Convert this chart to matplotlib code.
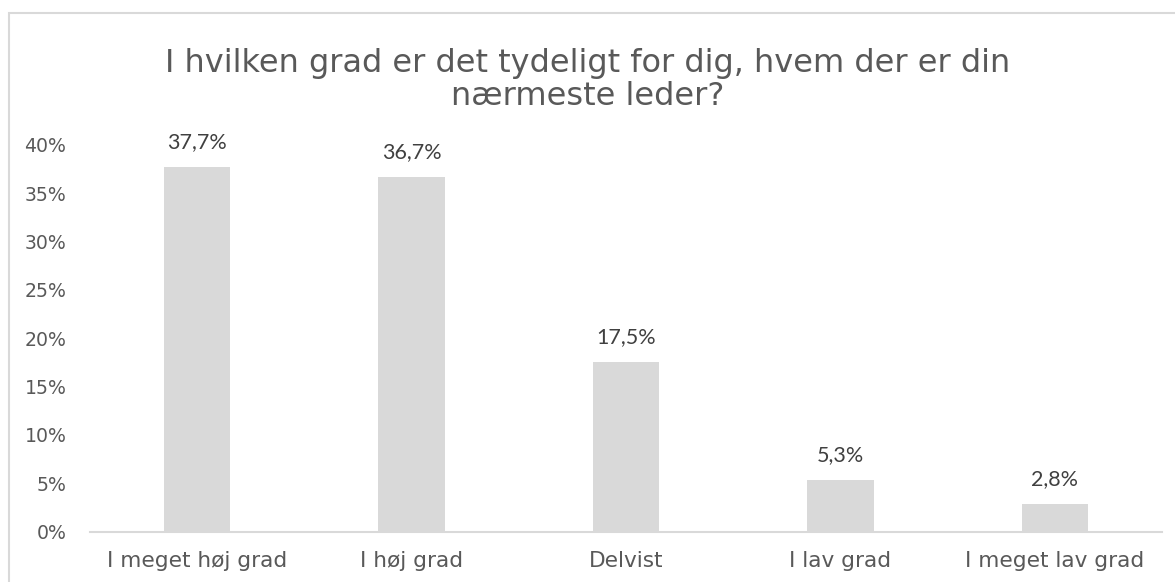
import matplotlib
matplotlib.use("Agg")
import matplotlib.pyplot as plt
from matplotlib.patches import Rectangle

categories = ["I meget høj grad", "I høj grad", "Delvist", "I lav grad", "I meget lav grad"]
values = [37.7, 36.7, 17.5, 5.3, 2.8]
value_labels = ["37,7%", "36,7%", "17,5%", "5,3%", "2,8%"]
yticks = [0, 5, 10, 15, 20, 25, 30, 35, 40]
ytick_labels = ["0%", "5%", "10%", "15%", "20%", "25%", "30%", "35%", "40%"]
title = "I hvilken grad er det tydeligt for dig, hvem der er din\nnærmeste leder?"

TEXT = "#595959"
GRID = "#d9d9d9"
BAR = "#d9d9d9"

fig = plt.figure(figsize=(11.75, 5.82), dpi=100)
ax = fig.add_axes([90 / 1175, 1 - 531.5 / 582, (1162 - 90) / 1175, (531.5 - 145) / 582])

x = list(range(len(categories)))
ax.bar(x, values, width=0.31, color=BAR, zorder=2)
ax.set_xlim(-0.5, len(categories) - 0.5)
ax.set_ylim(0, 40)

for xi, v, lab in zip(x, values, value_labels):
    ax.annotate(lab, (xi, v), xytext=(0, 18), textcoords="offset points",
                ha="center", va="center", fontsize=15.5, color="#404040",
                family=["Lato", "DejaVu Sans"])

ax.set_yticks(yticks)
ax.set_yticklabels(ytick_labels, fontsize=13.6, color=TEXT)
ax.set_xticks(x)
ax.set_xticklabels(categories, fontsize=15.6, color=TEXT)
ax.tick_params(axis="both", length=0)
ax.tick_params(axis="y", pad=17)
ax.tick_params(axis="x", pad=14)
for s in ["top", "right", "left"]:
    ax.spines[s].set_visible(False)
ax.spines["bottom"].set_color(GRID)
ax.spines["bottom"].set_linewidth(1.5)

fig.text(0.5, 1 - 80 / 582, title, ha="center", va="center", fontsize=23,
         color=TEXT, linespacing=1.12)

fig.patches.append(Rectangle((8.5 / 1175, -0.1), 1.2, 1.1 - 13 / 582, transform=fig.transFigure,
                             fill=False, edgecolor=GRID, linewidth=1.5))

fig.savefig("out.png", dpi=100)
